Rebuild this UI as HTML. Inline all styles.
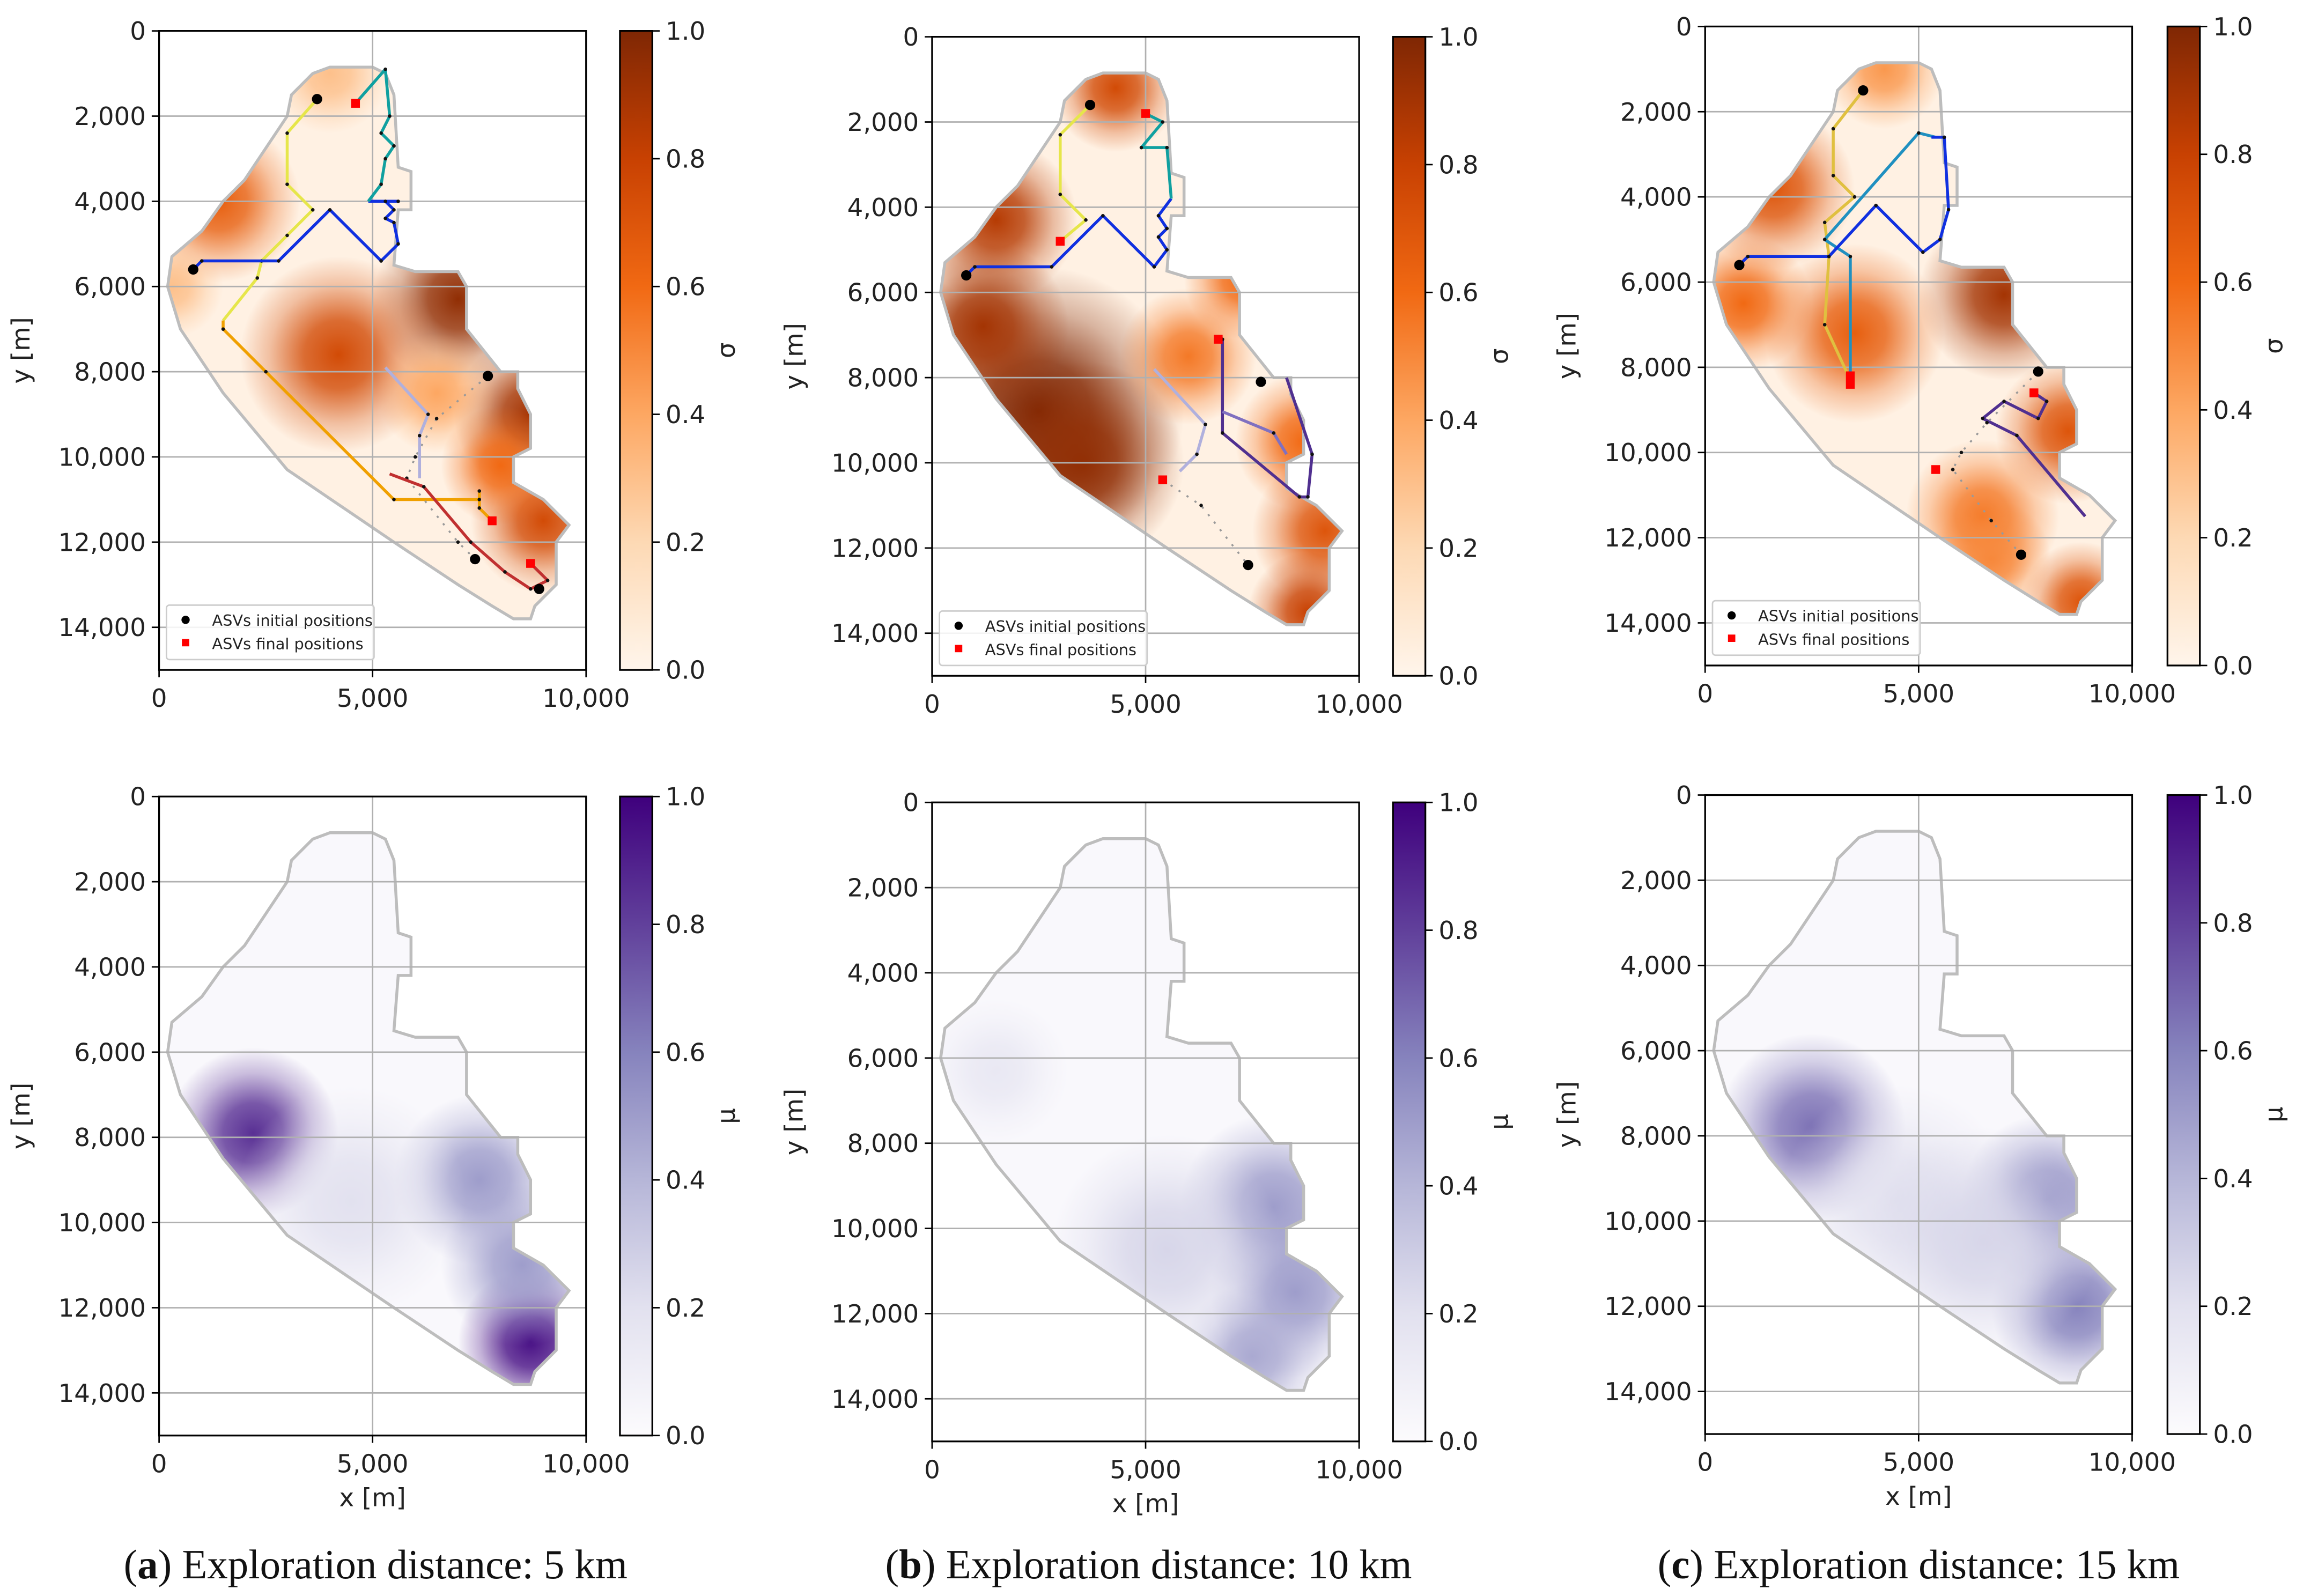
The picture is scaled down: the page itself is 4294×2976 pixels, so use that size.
<!DOCTYPE html>
<html><head><meta charset="utf-8">
<style>
html,body{margin:0;padding:0;background:#fff;}
svg{display:block;}
text{font-family:"DejaVu Sans","Liberation Sans",sans-serif;fill:#222;}
.cap{font-family:"Liberation Serif",serif;font-size:28px;fill:#111;}
</style></head>
<body>
<svg id="fig" xmlns="http://www.w3.org/2000/svg" width="4294" height="2976" viewBox="0 0 1564 1084">
<defs id="defs"></defs>
<g id="root"></g>
</svg>
<script>
// ---------- data ----------
const xTicks = [0, 5000, 10000];
const yTicks = [0, 2000, 4000, 6000, 8000, 10000, 12000, 14000];
const cbTicks = [0, 0.2, 0.4, 0.6, 0.8, 1.0];
const captions = [["a", "Exploration distance: 5 km"], ["b", "Exploration distance: 10 km"], ["c", "Exploration distance: 15 km"]];
const lakeX = [3300,3600,4000,5000,5300,5500,5600,5900,5900,5600,5500,6000,7000,7200,7200,8000,8400,8400,8700,8700,8300,8300,9000,9600,9300,9300,8800,8700,8300,7800,7000,5500,3000,1500,500,200,300,1000,1500,2000,3000,3100];
const lakeY = [1300,1000,850,850,1000,1500,3200,3300,4200,4200,5500,5650,5650,6000,7000,8000,8000,8400,9000,9800,10000,10600,11000,11600,12000,13000,13500,13800,13800,13500,13000,12000,10300,8500,7000,6000,5300,4700,4000,3500,2000,1500];
// sigma blobs: x, y, radius (m), value
const sigmaX = [[1400,4000,7000,4200,8700,9000,8000,300,6500],[4300,1500,2500,3500,1200,8700,9200,8800,6000,7300],[1600,4200,7000,3500,900,8500,6500,8800,6700]];
const sigmaY = [[4000,1000,6300,7600,9000,11500,10200,6000,8500],[1200,4300,8800,10000,6800,9500,11600,13500,7500,5700],[3800,1000,6300,7200,6500,9500,11500,13500,12500]];
const sigmaR = [[1900,1400,2000,2300,1800,1700,1400,1200,1400],[1500,1900,3400,2400,2000,1600,1700,1400,1600,1400],[1900,1400,2000,2100,1600,1700,1800,1400,1400]];
const sigmaV = [[0.65,0.3,0.95,0.75,0.9,0.75,0.6,0.3,0.4],[0.75,0.85,1.0,0.95,0.9,0.6,0.7,0.8,0.55,0.6],[0.7,0.45,0.9,0.65,0.6,0.7,0.55,0.7,0.5]];
// mu blobs
const muX = [[2200,8700,7500,8500,4500],[8000,8500,7500,1500,5500],[2500,8000,8700,4500,6500]];
const muY = [[7900,12800,9000,11000,9500],[9500,11500,13000,6300,10500],[7800,9500,12000,9500,10500]];
const muR = [[2000,1700,2000,1900,2700],[2200,2000,1700,1700,2700],[2200,2000,2000,2700,2700]];
const muV = [[0.85,0.95,0.5,0.5,0.2],[0.5,0.5,0.45,0.15,0.25],[0.65,0.55,0.6,0.2,0.25]];
// trajectories per panel: [color, dashed, xs, ys]
const trajA = [
 ["#e6e64a",0,[3700,3000,3000,3600,3000,2400,2300,1500],[1600,2400,3600,4200,4800,5400,5800,6800]],
 ["#f0a000",0,[1500,1500,2500,5500,7500,7500,7500,7800],[6800,7000,8000,11000,11000,10800,11200,11500]],
 ["#1030e0",0,[800,1000,2800,4000,5200,5600,5500,5300,5500,5300,5600,4900],[5600,5400,5400,4200,5400,5000,4500,4400,4200,4000,4000,4000]],
 ["#10a0a0",0,[4900,5200,5300,5500,5200,5400,5300,4600],[4000,3600,3000,2700,2400,2000,900,1700]],
 ["#999999",1,[7700,6500,6000,5800,7000,7400],[8100,9100,10000,10500,12000,12400]],
 ["#b0b0dd",0,[5300,6300,6100,6100],[7900,9000,9500,10500]],
 ["#c03030",0,[5400,6200,7300,8100,8700,9100,8700],[10400,10700,12000,12700,13100,12900,12500]]
];
const trajB = [
 ["#e6e64a",0,[3700,3000,3000,3600,3000],[1600,2300,3700,4300,4800]],
 ["#1030e0",0,[800,1000,2800,4000,5200,5500,5300,5500,5300,5600],[5600,5400,5400,4200,5400,5000,4700,4500,4200,3800]],
 ["#10a0a0",0,[5600,5500,4900,5400,5000],[3800,2600,2600,2000,1800]],
 ["#503090",0,[6700,6800,6800,8600,8800,8900,8300],[7100,7100,9300,10800,10800,9800,8000]],
 ["#8070c0",0,[6800,8000,8300],[8800,9300,9800]],
 ["#999999",1,[5400,6300,7400],[10400,11000,12400]],
 ["#b0b0dd",0,[5200,6400,6200,5800],[7800,9100,9800,10200]]
];
const trajC = [
 ["#e0c040",0,[3700,3000,3000,3500,2800,2900,2800,3400],[1500,2400,3500,4000,4600,5400,7000,8300]],
 ["#2090c0",0,[5400,5000,2800,3400,3400],[2600,2500,5000,5400,8200]],
 ["#1030e0",0,[800,1000,2900,4000,5100,5500,5700,5600,5300],[5600,5400,5400,4200,5300,5000,4300,2600,2600]],
 ["#503090",0,[7700,8000,7800,7000,6500,7300,8900],[8600,8800,9200,8800,9200,9600,11500]],
 ["#999999",1,[7800,6600,6000,5800,6700,7400],[8100,9300,10000,10400,11600,12400]]
];
const trajs = [trajA, trajB, trajC];
const initX = [[3700,800,7700,7400,8900],[3700,800,7700,7400],[3700,800,7800,7400]];
const initY = [[1600,5600,8100,12400,13100],[1600,5600,8100,12400],[1500,5600,8100,12400]];
const finX = [[4600,7800,8700],[5000,3000,6700,5400],[3400,3400,7700,5400]];
const finY = [[1700,11500,12500],[1800,4800,7100,10400],[8400,8200,8600,10400]];
const orangeStops = ["#fff5eb","#fdd9b4","#fda762","#f16913","#c84102","#7f2704"];
const purpleStops = ["#fcfbfd","#e2e1ef","#b6b6d8","#8683bd","#61409b","#3f007d"];

// ---------- layout ----------
const NS = "http://www.w3.org/2000/svg";
const root = document.getElementById("root");
const defs = document.getElementById("defs");
const AW = 290, AH = 434, CBW = 22;
const cols = [{ax:108,cb:421,ty:21,by:541,cx:255},{ax:633,cb:946,ty:25,by:545,cx:780},{ax:1158,cb:1472,ty:18,by:540,cx:1303}];
function mk(tag, attrs, parent){const e=document.createElementNS(NS,tag);for(const k in attrs)e.setAttribute(k,attrs[k]);(parent||root).appendChild(e);return e;}
function hex(c){return [1,3,5].map(i=>parseInt(c.substr(i,2),16));}
function cmap(stops,v){v=Math.max(0,Math.min(1,v));const n=stops.length-1;const i=Math.min(n-1,Math.floor(v*n));const t=v*n-i;const a=hex(stops[i]),b=hex(stops[i+1]);return "rgb("+a.map((x,j)=>Math.round(x+(b[j]-x)*t)).join(",")+")";}
function fmt(v){return v.toString().replace(/\B(?=(\d{3})+(?!\d))/g,",");}
let gid=0;

function panel(ci, top){
  const c = cols[ci];
  const ax=c.ax, ay= top?c.ty:c.by;
  const sx=v=>ax+v/10000*AW, sy=v=>ay+v/15000*AH, sr=v=>v/10000*AW;
  const stops = top?orangeStops:purpleStops;
  const g = mk("g",{});
  
  
  const pts = lakeX.map((x,i)=>sx(x).toFixed(1)+","+sy(lakeY[i]).toFixed(1)).join(" ");
  const cp = mk("clipPath",{id:"clip"+(++gid)},defs);
  mk("polygon",{points:pts},cp);
  const heat = mk("g",{"clip-path":"url(#clip"+gid+")"},g);
  
  
  mk("rect",{x:ax,y:ay,width:AW,height:AH,fill:cmap(stops,top?0.03:0.02)},heat);
  const BX=top?sigmaX[ci]:muX[ci], BY=top?sigmaY[ci]:muY[ci], BR=top?sigmaR[ci]:muR[ci], BV=top?sigmaV[ci]:muV[ci];
  for(let i=0;i<BX.length;i++){
    const id="rg"+(++gid);
    const rg=mk("radialGradient",{id:id},defs);
    const col=cmap(stops,BV[i]);
    mk("stop",{offset:"0","stop-color":col,"stop-opacity":"1"},rg);
    mk("stop",{offset:"0.35","stop-color":col,"stop-opacity":"0.8"},rg);
    mk("stop",{offset:"0.7","stop-color":col,"stop-opacity":"0.3"},rg);
    mk("stop",{offset:"1","stop-color":col,"stop-opacity":"0"},rg);
    const b=mk("circle",{cx:sx(BX[i]),cy:sy(BY[i]),r:sr(BR[i]),fill:"url(#"+id+")"},heat);
    
    
  }
  const out=mk("polygon",{points:pts,fill:"none",stroke:"#bdbdbd","stroke-width":2},g);
  
  
  yTicks.forEach(v=>{const l=mk("line",{x1:ax,x2:ax+AW,y1:sy(v),y2:sy(v),stroke:"#b0b0b0","stroke-width":1},g);});
  xTicks.forEach(v=>{const l=mk("line",{x1:sx(v),x2:sx(v),y1:ay,y2:ay+AH,stroke:"#b0b0b0","stroke-width":1},g);});
  if(top){
    trajs[ci].forEach(t=>{
      const p=t[2].map((x,i)=>sx(x).toFixed(1)+","+sy(t[3][i]).toFixed(1)).join(" ");
      const pl=mk("polyline",{points:p,fill:"none",stroke:t[0],"stroke-width":t[1]?1.3:2,"stroke-dasharray":t[1]?"1.5,5":"none","stroke-linejoin":"round"},g);
      
      
      t[2].forEach((x,i)=>{if(i>0&&i<t[2].length-1){const d=mk("circle",{cx:sx(x),cy:sy(t[3][i]),r:1.2,fill:"#111"},g);}});
    });
    initX[ci].forEach((x,i)=>{const d=mk("circle",{cx:sx(x),cy:sy(initY[ci][i]),r:3.5,fill:"#000"},g);});
    finX[ci].forEach((x,i)=>{const d=mk("rect",{x:sx(x)-3,y:sy(finY[ci][i])-3,width:6,height:6,fill:"#f00"},g);});
    const lg=mk("g",{},g);
    
    
    mk("rect",{x:ax+5,y:ay+390,width:141,height:37,rx:2,fill:"#fff","fill-opacity":0.85,stroke:"#ccc","stroke-width":1},lg);
    mk("circle",{cx:ax+18,cy:ay+400,r:2.8,fill:"#000"},lg);
    mk("rect",{x:ax+15.5,y:ay+413,width:5,height:5,fill:"#f00"},lg);
    const t1=mk("text",{x:ax+36,y:ay+404,"font-size":10.5},lg);t1.textContent="ASVs initial positions";
    
    const t2=mk("text",{x:ax+36,y:ay+420,"font-size":10.5},lg);t2.textContent="ASVs final positions";
    
  }
  const fr=mk("rect",{x:ax,y:ay,width:AW,height:AH,fill:"none",stroke:"#000","stroke-width":1.2},g);
  
  yTicks.forEach(v=>{
    mk("line",{x1:ax-5,x2:ax,y1:sy(v),y2:sy(v),stroke:"#000","stroke-width":1},g);
    const t=mk("text",{x:ax-9,y:sy(v)+6,"font-size":17,"text-anchor":"end"},g);t.textContent=fmt(v);
    
  });
  xTicks.forEach(v=>{
    mk("line",{x1:sx(v),x2:sx(v),y1:ay+AH,y2:ay+AH+5,stroke:"#000","stroke-width":1},g);
    const t=mk("text",{x:sx(v),y:ay+AH+25,"font-size":17,"text-anchor":"middle"},g);t.textContent=fmt(v);
    
  });
  const yl=mk("text",{x:0,y:0,"font-size":17,"text-anchor":"middle",transform:"translate("+(ax-88)+","+(ay+AH/2)+") rotate(-90)"},g);
  yl.textContent="y [m]";
  if(!top){const xl=mk("text",{x:ax+AW/2,y:ay+AH+48,"font-size":17,"text-anchor":"middle"},g);xl.textContent="x [m]";}
  const cb=mk("g",{},g);
  
  const lid="lg"+(++gid);
  const lgd=mk("linearGradient",{id:lid,x1:0,y1:1,x2:0,y2:0},defs);
  stops.forEach((s,i)=>mk("stop",{offset:i/(stops.length-1),"stop-color":s},lgd));
  mk("rect",{x:c.cb,y:ay,width:CBW,height:AH,fill:"url(#"+lid+")",stroke:"#000","stroke-width":1.2},cb);
  cbTicks.forEach(v=>{
    const yy=ay+AH-v*AH;
    mk("line",{x1:c.cb+CBW,x2:c.cb+CBW+5,y1:yy,y2:yy,stroke:"#000","stroke-width":1},cb);
    const t=mk("text",{x:c.cb+CBW+9,y:yy+6,"font-size":17},cb);t.textContent=v.toFixed(1);
    
  });
  const cl=mk("text",{x:0,y:0,"font-size":17,"text-anchor":"middle",transform:"translate("+(c.cb+CBW+56)+","+(ay+AH/2)+") rotate(-90)"},cb);
  cl.textContent=top?"σ":"μ";
}
for(let i=0;i<3;i++){panel(i,true);panel(i,false);}
captions.forEach((c,i)=>{
  const t=mk("text",{x:cols[i].cx,y:1072,"text-anchor":"middle",class:"cap"});
  
  const a=mk("tspan",{},t);a.textContent="(";
  const b=mk("tspan",{"font-weight":"bold"},t);b.textContent=c[0];
  const d=mk("tspan",{},t);d.textContent=") "+c[1];
});
</script>
</body></html>
